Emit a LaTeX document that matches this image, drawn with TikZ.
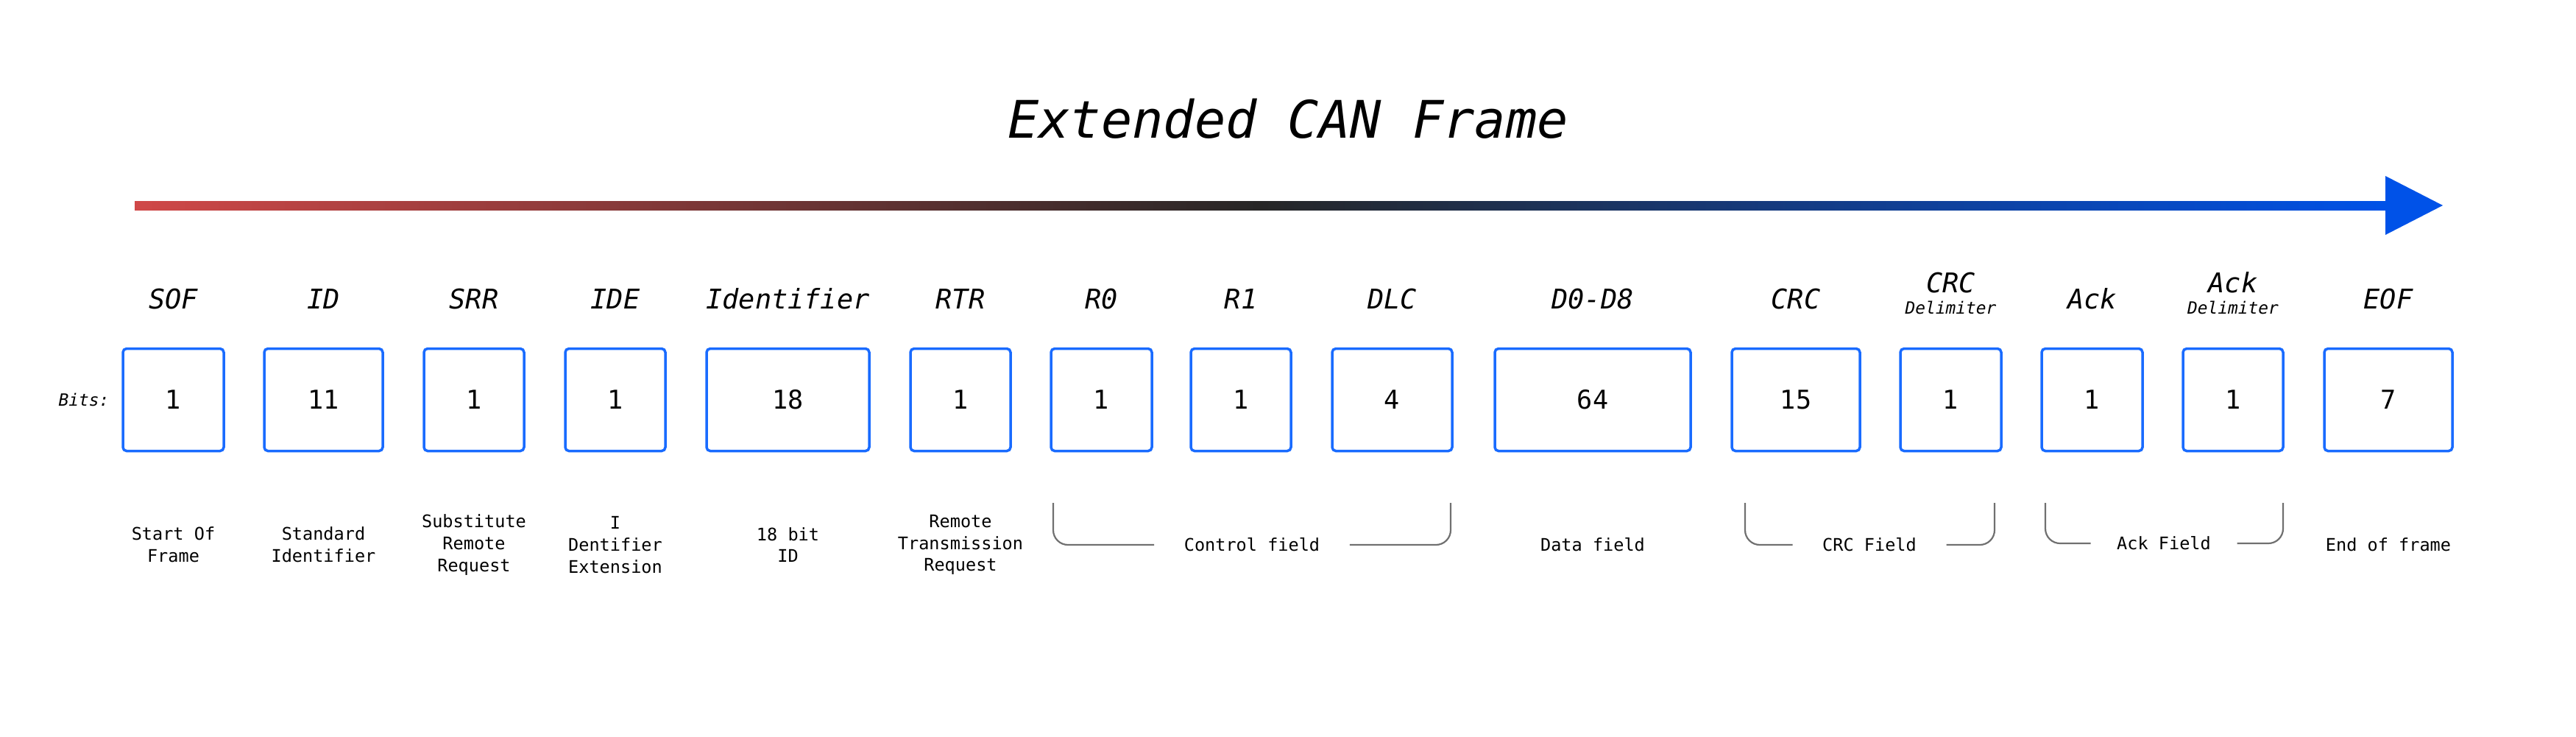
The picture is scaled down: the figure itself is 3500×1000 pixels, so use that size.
\documentclass[tikz,border=0pt]{standalone}
\usepackage{fontspec}
\setmonofont{DejaVu Sans Mono}
\usetikzlibrary{arrows.meta}
\definecolor{bblue}{rgb}{0.1,0.42,1}
\definecolor{ared}{HTML}{D04848}
\definecolor{ablue}{HTML}{0052E8}
\definecolor{bgray}{HTML}{707070}
\begin{document}
\begin{tikzpicture}[x=0.1mm,y=-0.1mm,font=\ttfamily,
  box/.style={draw=bblue,line width=0.35mm,rounded corners=0.5mm,minimum height=13.9mm,inner sep=0,font=\ttfamily\fontsize{10}{12}\selectfont},
  top/.style={font=\ttfamily\itshape\fontsize{10.5}{12}\selectfont},
  small/.style={font=\ttfamily\itshape\fontsize{6.5}{8}\selectfont},
  desc/.style={font=\ttfamily\fontsize{6.7}{8.5}\selectfont,align=center},
  brk/.style={draw=bgray,line width=0.22mm,rounded corners=2mm}]
\useasboundingbox (0,0) rectangle (3500,1000);
\node[font=\ttfamily\itshape\fontsize{20}{24}\selectfont] (title) at (1750,161) {Extended CAN Frame};
% arrow
\shade[left color=ared,right color=ablue,middle color=black!85] (183,273) rectangle (3245,285);
\coordinate (tipbase) at (3241,279);
\coordinate (tip) at (3319,279);
\fill[ablue] (3241,239) -- (tip) -- (3241,319) -- cycle;
% boxes
\node[box,minimum width=13.7mm] (sof) at (235.5,543) {1};
\node[box,minimum width=16.1mm] (id) at (439.5,543) {11};
\node[box,minimum width=13.6mm] (srr) at (644,543) {1};
\node[box,minimum width=13.6mm] (ide) at (836,543) {1};
\node[box,minimum width=22.1mm] (ident) at (1070.5,543) {18};
\node[box,minimum width=13.6mm] (rtr) at (1305,543) {1};
\node[box,minimum width=13.7mm] (r0) at (1496.5,543) {1};
\node[box,minimum width=13.6mm] (r1) at (1686,543) {1};
\node[box,minimum width=16.3mm] (dlc) at (1891.5,543) {4};
\node[box,minimum width=26.6mm] (data) at (2164,543) {64};
\node[box,minimum width=17.4mm] (crc) at (2440,543) {15};
\node[box,minimum width=13.7mm] (crcd) at (2650.5,543) {1};
\node[box,minimum width=13.7mm] (ack) at (2842.5,543) {1};
\node[box,minimum width=13.6mm] (ackd) at (3034,543) {1};
\node[box,minimum width=17.4mm] (eof) at (3245,543) {7};
\node[small] (bits) at (114,543) {Bits:};
% top labels
\node[top] (tsof) at (235.5,406) {SOF};
\node[top] (tid) at (439.5,406) {ID};
\node[top] (tsrr) at (644,406) {SRR};
\node[top] (tide) at (836,406) {IDE};
\node[top] (tident) at (1070.5,406) {Identifier};
\node[top] (trtr) at (1305,406) {RTR};
\node[top] (tr0) at (1496.5,406) {R0};
\node[top] (tr1) at (1686,406) {R1};
\node[top] (tdlc) at (1891.5,406) {DLC};
\node[top] (tdata) at (2164,406) {D0-D8};
\node[top] (tcrc) at (2440,406) {CRC};
\node[top] (tcrcd) at (2650.5,384) {CRC};
\node[small] (tcrcd2) at (2650.5,418) {Delimiter};
\node[top] (tack) at (2842.5,406) {Ack};
\node[top] (tackd) at (3034,384) {Ack};
\node[small] (tackd2) at (3034,418) {Delimiter};
\node[top] (teof) at (3245,406) {EOF};
% descriptions
\node[desc] (dsof) at (235.5,740) {Start Of\\Frame};
\node[desc] (did) at (439.5,740) {Standard\\Identifier};
\node[desc] (dsrr) at (644,740) {Substitute\\Remote\\Request};
\node[desc] (dide) at (836,740) {I\\Dentifier\\Extension};
\node[desc] (dident) at (1070.5,740) {18 bit\\ID};
\node[desc] (drtr) at (1305,740) {Remote\\Transmission\\Request};
\node[desc] (ddata) at (2164,740) {Data field};
\node[desc] (deof) at (3245,740) {End of frame};
% brackets
\node[desc,inner xsep=4mm] (ctrl) at (1701,740) {Control field};
\coordinate (c1) at (1431,683); \coordinate (c2) at (1971,683);
\draw[brk] (c1) |- (ctrl.west); \draw[brk] (c2) |- (ctrl.east);
\node[desc,inner xsep=4mm] (crcf) at (2540,740) {CRC Field};
\coordinate (k1) at (2371,683); \coordinate (k2) at (2710,683);
\draw[brk] (k1) |- (crcf.west); \draw[brk] (k2) |- (crcf.east);
\node[desc,inner xsep=3.5mm] (ackf) at (2940,738) {Ack Field};
\coordinate (a1) at (2779,683); \coordinate (a2) at (3102,683);
\draw[brk] (a1) |- (ackf.west); \draw[brk] (a2) |- (ackf.east);
\end{tikzpicture}
\end{document}
